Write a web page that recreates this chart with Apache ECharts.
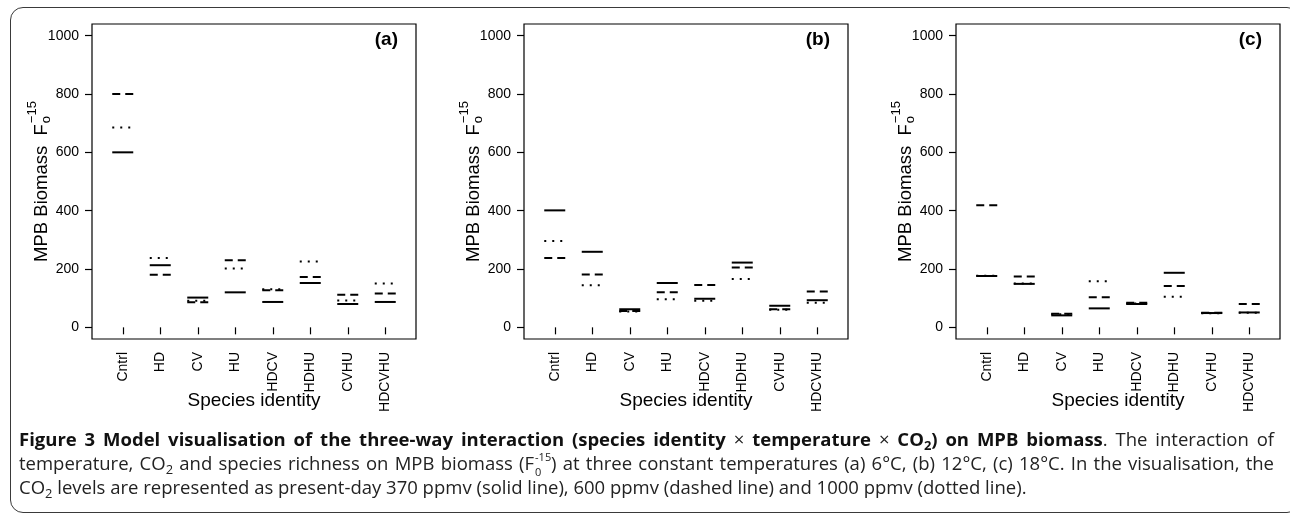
<!DOCTYPE html>
<html><head><meta charset="utf-8">
<script src="https://cdn.jsdelivr.net/npm/echarts@6/dist/echarts.min.js"></script>
<style>
html,body{margin:0;padding:0;background:#fff;}
#wrap{position:relative;width:1290px;height:514px;overflow:hidden;}
#chart{position:absolute;left:0;top:0;width:1290px;height:514px;}
#frame{position:absolute;left:10px;top:7px;width:1290px;height:506px;border:1.3px solid #3a3a3a;border-radius:13px;box-sizing:border-box;}
#caption{position:absolute;left:19px;top:427px;width:1255px;font-family:'Open Sans';font-size:18.5px;line-height:24px;color:#222;}
#caption .ln{white-space:nowrap;height:24px;}
#caption .j{text-align:justify;text-align-last:justify;}
#caption b{color:#111;}
#caption sub{font-size:70%;line-height:0;vertical-align:-0.3em;}
.ss{display:inline-block;position:relative;width:17px;height:10px;}
.ss span{position:absolute;left:1px;font-size:11px;line-height:11px;}
.ss .up{top:-9px;}
.ss .dn{top:6px;}
</style></head>
<body>
<div id="wrap">
<div id="frame"></div>
<div id="chart"></div>
<div id="caption">
<div class="ln j"><b>Figure 3 Model visualisation of the three-way interaction (species identity</b> × <b>temperature</b> × <b>CO<sub>2</sub>) on MPB biomass</b>. The interaction of</div>
<div class="ln j">temperature, CO<sub>2</sub> and species richness on MPB biomass (F<span class="ss"><span class="up">-15</span><span class="dn">0</span></span>) at three constant temperatures (a) 6°C, (b) 12°C, (c) 18°C. In the visualisation, the</div>
<div class="ln">CO<sub>2</sub> levels are represented as present-day 370 ppmv (solid line), 600 ppmv (dashed line) and 1000 ppmv (dotted line).</div>
</div>
</div>
<script>
const categories = ['Cntrl','HD','CV','HU','HDCV','HDHU','CVHU','HDCVHU'];
const yTicks = [0, 200, 400, 600, 800, 1000];
const panelLabels = ['(a)', '(b)', '(c)'];

// (a) 6°C
const solidA  = [600, 213, 102, 120,  87, 152,  80,  87];
const dashedA = [800, 180,  86, 230, 127, 173, 112, 116];
const dottedA = [685, 238,  91, 202, 131, 226,  92, 150];
// (b) 12°C
const solidB  = [401, 259,  62, 152,  98, 222,  74,  93];
const dashedB = [238, 181,  56, 120, 145, 205,  62, 123];
const dottedB = [296, 144,  54,  96,  91, 166,  60,  84];
// (c) 18°C
const solidC  = [176, 149,  41,  65,  80, 187,  49,  51];
const dashedC = [419, 174,  47, 103,  84, 142,  50,  80];
const dottedC = [177, 150,  45, 158,  82, 105,  48,  50];

const panels = [
  {solid: solidA, dashed: dashedA, dotted: dottedA},
  {solid: solidB, dashed: dashedB, dotted: dottedB},
  {solid: solidC, dashed: dashedC, dotted: dottedC}
];

const FONT = "'Liberation Sans', Arial, Helvetica, sans-serif";
const HALF = 0.28;
const catPos = categories.map((c, i) => i + 1);
const panelLeft = [92, 524, 956];
const PW = 324, PT = 24, PH = 315;

const grids = [], xAxes = [], yAxes = [], series = [], graphics = [];

const ctx = document.createElement('canvas').getContext('2d');
function tw(text, font) { ctx.font = font; return ctx.measureText(text).width; }

function makeRender(dash) {
  return function (params, api) {
    const x = api.value(0), y = api.value(1);
    const p1 = api.coord([x - HALF, y]);
    const p2 = api.coord([x + HALF, y]);
    return {
      type: 'line',
      shape: {x1: p1[0], y1: p1[1], x2: p2[0], y2: p2[1]},
      style: {stroke: '#000', lineWidth: 2, lineDash: dash, lineCap: 'butt'}
    };
  };
}

panels.forEach((p, k) => {
  grids.push({left: panelLeft[k], top: PT, width: PW, height: PH, show: true,
    borderColor: '#000', borderWidth: 1.2, backgroundColor: 'transparent'});
  xAxes.push({
    type: 'value', gridIndex: k, min: 0.18, max: 8.82,
    axisLine: {show: false}, splitLine: {show: false},
    axisTick: {show: true, inside: false, length: 7, customValues: catPos, lineStyle: {color: '#000', width: 1.2}},
    axisLabel: {customValues: catPos, rotate: 90, margin: 13, fontSize: 14, color: '#000', fontFamily: FONT,
      formatter: v => categories[Math.round(v) - 1] || ''},
    name: 'Species identity', nameLocation: 'middle', nameGap: 52, nameMoveOverlap: false,
    nameTextStyle: {fontSize: 19, color: '#000', fontFamily: FONT}
  });
  yAxes.push({
    type: 'value', gridIndex: k, min: -40, max: 1040,
    axisLine: {show: false}, splitLine: {show: false},
    axisTick: {show: true, inside: false, length: 7, customValues: yTicks, lineStyle: {color: '#000', width: 1.2}},
    axisLabel: {customValues: yTicks, margin: 13, fontSize: 14, color: '#000', fontFamily: FONT,
      formatter: v => String(v)}
  });
  const order = [['dotted', [2, 6]], ['dashed', [8, 5]], ['solid', null]];
  order.forEach(([key, dash]) => {
    series.push({
      type: 'custom', name: key, xAxisIndex: k, yAxisIndex: k,
      renderItem: makeRender(dash),
      data: p[key].map((v, i) => [catPos[i], v]),
      encode: {x: 0, y: 1}, silent: true
    });
  });

  // y axis title: MPB Biomass  F_o^-15
  const mainFont = '18.5px ' + FONT, smallFont = '13px ' + FONT;
  const mainTxt = 'MPB Biomass  F';
  const mw = tw(mainTxt, mainFont);
  const sw = Math.max(tw('o', smallFont), tw('\u221215', smallFont));
  const total = mw + 1 + sw;
  const sx = -total / 2;
  graphics.push({
    type: 'group', x: 41.5 + 432 * k, y: PT + PH / 2, rotation: Math.PI / 2, silent: true,
    children: [
      {type: 'text', x: sx, y: 0, style: {text: mainTxt, font: mainFont, fill: '#000', align: 'left', verticalAlign: 'middle'}},
      {type: 'text', x: sx + mw + 1, y: 5, style: {text: 'o', font: smallFont, fill: '#000', align: 'left', verticalAlign: 'middle'}},
      {type: 'text', x: sx + mw + 1, y: -9, style: {text: '\u221215', font: smallFont, fill: '#000', align: 'left', verticalAlign: 'middle'}}
    ]
  });
  graphics.push({type: 'text', x: panelLeft[k] + PW - 18, y: 40, silent: true,
    style: {text: panelLabels[k], font: 'bold 19px ' + FONT, fill: '#000', align: 'right', verticalAlign: 'middle'}});
});

const chart = echarts.init(document.getElementById('chart'), null, {renderer: 'canvas'});
chart.setOption({
  animation: false,
  backgroundColor: 'transparent',
  grid: grids, xAxis: xAxes, yAxis: yAxes, series: series, graphic: graphics
});
</script>
</body></html>
